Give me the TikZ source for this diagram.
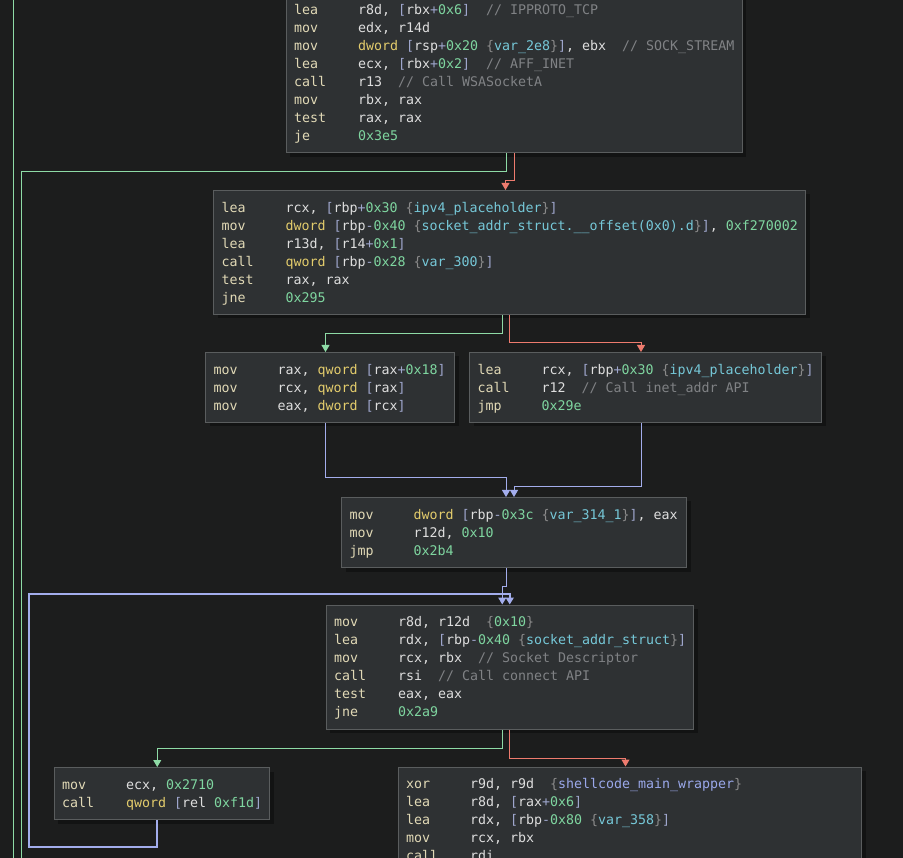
\documentclass[tikz,border=0pt]{standalone}
\usepackage{fontspec}
\usepackage{xcolor}
\usepackage{tikz}
\usetikzlibrary{arrows.meta}
\usetikzlibrary{shadows}

\newfontfamily\codefont{DejaVu Sans Mono}
\frenchspacing

\definecolor{bgc}{HTML}{1C1D1D}
\definecolor{boxfill}{HTML}{2E3133}
\definecolor{boxline}{HTML}{5A5D5E}
\definecolor{shadowc}{HTML}{121313}
\definecolor{mnc}{HTML}{E1D9B6}
\definecolor{regc}{HTML}{DEDEDE}
\definecolor{kwc}{HTML}{E3CC6C}
\definecolor{hexc}{HTML}{7FD6A0}
\definecolor{brc}{HTML}{9EA6CC}
\definecolor{bcc}{HTML}{8A8A8A}
\definecolor{varc}{HTML}{76C8D8}
\definecolor{fnc}{HTML}{9AA8EA}
\definecolor{cmc}{HTML}{808285}
\definecolor{greenc}{HTML}{8EDBA6}
\definecolor{redc}{HTML}{EE7B6E}
\definecolor{bluec}{HTML}{A3ADEC}

% code font: 8pt per character
\newcommand{\codestyle}{\codefont\fontsize{13.3}{18}\selectfont}
% one fixed-width blank
\newcommand{\spc}{\hspace*{8pt}}
% one instruction per line: mnemonic column, then operands
\newcommand{\asm}[2]{\mbox{\rule[-4.4pt]{0pt}{18pt}\makebox[64pt][l]{\color{mnc}#1}#2}}
\newcommand{\hexv}[1]{{\color{hexc}#1}}
\newcommand{\kwd}[1]{{\color{kwc}#1}}
\newcommand{\lbr}{{\color{brc}[}}
\newcommand{\rbr}{{\color{brc}]}}
\newcommand{\opp}{{\color{brc}+}}
\newcommand{\opm}{{\color{brc}-}}
\newcommand{\annot}[1]{{\color{bcc}\{}#1{\color{bcc}\}}}
\newcommand{\vname}[1]{\annot{{\color{varc}#1}}}
\newcommand{\fname}[1]{\annot{{\color{fnc}#1}}}
\newcommand{\cmt}[1]{\spc\spc{\color{cmc}#1}}

\begin{document}
\begin{tikzpicture}[x=1pt, y=-1pt,
  box/.style={
    rectangle,
    draw=boxline,
    fill=boxfill,
    line width=1pt,
    inner xsep=8pt,
    inner ysep=0pt,
    anchor=north west,
    align=left,
    text=regc,
    font=\codestyle,
    drop shadow={shadow xshift=4pt, shadow yshift=-4pt, fill=shadowc, opacity=1}
  },
  arr/.style={-{Triangle[width=8pt,length=7pt]}, draw=#1, line width=1pt},
  edge/.style={draw=#1, line width=1pt},
  backedge/.style={-{Triangle[width=8pt,length=7pt]}, draw=bluec, line width=2pt}
]

% Canvas
\useasboundingbox (0,0) rectangle (903,858);
\fill[bgc] (0,0) rectangle (903,858);
\clip (0,0) rectangle (903,858);

% Blocks
\node[box, text width=440pt, minimum height=160pt] (b1) at (285.5,-7.5)
{\asm{lea}{r8d,\spc\lbr rbx\opp\hexv{0x6}\rbr\cmt{//\spc IPPROTO\_TCP}}\\
 \asm{mov}{edx,\spc r14d}\\
 \asm{mov}{\kwd{dword}\spc\lbr rsp\opp\hexv{0x20}\spc\vname{var\_2e8}\rbr,\spc ebx\cmt{//\spc SOCK\_STREAM}}\\
 \asm{lea}{ecx,\spc\lbr rbx\opp\hexv{0x2}\rbr\cmt{//\spc AFF\_INET}}\\
 \asm{call}{r13\cmt{//\spc Call\spc WSASocketA}}\\
 \asm{mov}{rbx,\spc rax}\\
 \asm{test}{rax,\spc rax}\\
 \asm{je}{\hexv{0x3e5}}};

\node[box, text width=576pt, minimum height=124pt] (b2) at (213,190)
{\asm{lea}{rcx,\spc\lbr rbp\opp\hexv{0x30}\spc\vname{ipv4\_placeholder}\rbr}\\
 \asm{mov}{\kwd{dword}\spc\lbr rbp\opm\hexv{0x40}\spc\vname{socket\_addr\_struct.\_\_offset(0x0).d}\rbr,\spc\hexv{0xf270002}}\\
 \asm{lea}{r13d,\spc\lbr r14\opp\hexv{0x1}\rbr}\\
 \asm{call}{\kwd{qword}\spc\lbr rbp\opm\hexv{0x28}\spc\vname{var\_300}\rbr}\\
 \asm{test}{rax,\spc rax}\\
 \asm{jne}{\hexv{0x295}}};

\node[box, text width=233pt, minimum height=70pt] (b3l) at (205,352)
{\asm{mov}{rax,\spc\kwd{qword}\spc\lbr rax\opp\hexv{0x18}\rbr}\\
 \asm{mov}{rcx,\spc\kwd{qword}\spc\lbr rax\rbr}\\
 \asm{mov}{eax,\spc\kwd{dword}\spc\lbr rcx\rbr}};

\node[box, text width=336pt, minimum height=70pt] (b3r) at (469,352)
{\asm{lea}{rcx,\spc\lbr rbp\opp\hexv{0x30}\spc\vname{ipv4\_placeholder}\rbr}\\
 \asm{call}{r12\cmt{//\spc Call\spc inet\_addr\spc API}}\\
 \asm{jmp}{\hexv{0x29e}}};

\node[box, text width=329pt, minimum height=70pt] (b4) at (341,497)
{\asm{mov}{\kwd{dword}\spc\lbr rbp\opm\hexv{0x3c}\spc\vname{var\_314\_1}\rbr,\spc eax}\\
 \asm{mov}{r12d,\spc\hexv{0x10}}\\
 \asm{jmp}{\hexv{0x2b4}}};

\node[box, text width=351.5pt, minimum height=124pt] (b5) at (325.5,604.5)
{\asm{mov}{r8d,\spc r12d\spc\spc\annot{\hexv{0x10}}}\\
 \asm{lea}{rdx,\spc\lbr rbp\opm\hexv{0x40}\spc\vname{socket\_addr\_struct}\rbr}\\
 \asm{mov}{rcx,\spc rbx\cmt{//\spc Socket\spc Descriptor}}\\
 \asm{call}{rsi\cmt{//\spc Call\spc connect\spc API}}\\
 \asm{test}{eax,\spc eax}\\
 \asm{jne}{\hexv{0x2a9}}};

\node[box, text width=199.5pt, minimum height=52pt] (b6l) at (53.5,767)
{\asm{mov}{ecx,\spc\hexv{0x2710}}\\
 \asm{call}{\kwd{qword}\spc\lbr rel\spc\hexv{0xf1d}\rbr}};

\node[box, text width=447.5pt, minimum height=106pt] (b6r) at (397.5,766.5)
{\asm{xor}{r9d,\spc r9d\spc\spc\fname{shellcode\_main\_wrapper}}\\
 \asm{lea}{r8d,\spc\lbr rax\opp\hexv{0x6}\rbr}\\
 \asm{lea}{rdx,\spc\lbr rbp\opm\hexv{0x80}\spc\vname{var\_358}\rbr}\\
 \asm{mov}{rcx,\spc rbx}\\
 \asm{call}{rdi}};

% Free ends off the page
\coordinate (gtop) at (13,-5);
\coordinate (gbot) at (13,870);
\coordinate (gout) at (21,870);
\coordinate (bk) at (29,594);

% Edges
\draw[edge=greenc] (gtop) -- (gbot);
\draw[edge=greenc] ([xshift=-8pt]b1.south) -- ++(0,18.5) -| (gout);
\draw[arr=redc] (b1.south) -- ++(0,27.5) -| ([xshift=-4pt]b2.north);

\draw[arr=greenc] ([xshift=-7.5pt]b2.south) -- ++(0,19) -| ([xshift=-4.5pt]b3l.north);
\draw[arr=redc] (b2.south) -- ++(0,28) -| ([xshift=-4.5pt]b3r.north);

\draw[arr=bluec] ([xshift=-4.5pt]b3l.south) -- ++(0,55) -| ([xshift=-8pt]b4.north);
\draw[arr=bluec] ([xshift=-4.5pt]b3r.south) -- ++(0,64) -| (b4.north);

\draw[arr=bluec] ([xshift=-8pt]b4.south) -- ++(0,18) -| ([xshift=-7.5pt]b5.north);

\draw[arr=greenc] ([xshift=-7.5pt]b5.south) -- ++(0,18.5) -| ([xshift=-4.5pt]b6l.north);
\draw[arr=redc] (b5.south) -- ++(0,28.5) -| ([xshift=-4.25pt]b6r.north);

% Loop back to the connect block
\draw[backedge] ([xshift=-4.5pt]b6l.south) -- ++(0,27) -| (bk) -| (b5.north);

\end{tikzpicture}
\end{document}
